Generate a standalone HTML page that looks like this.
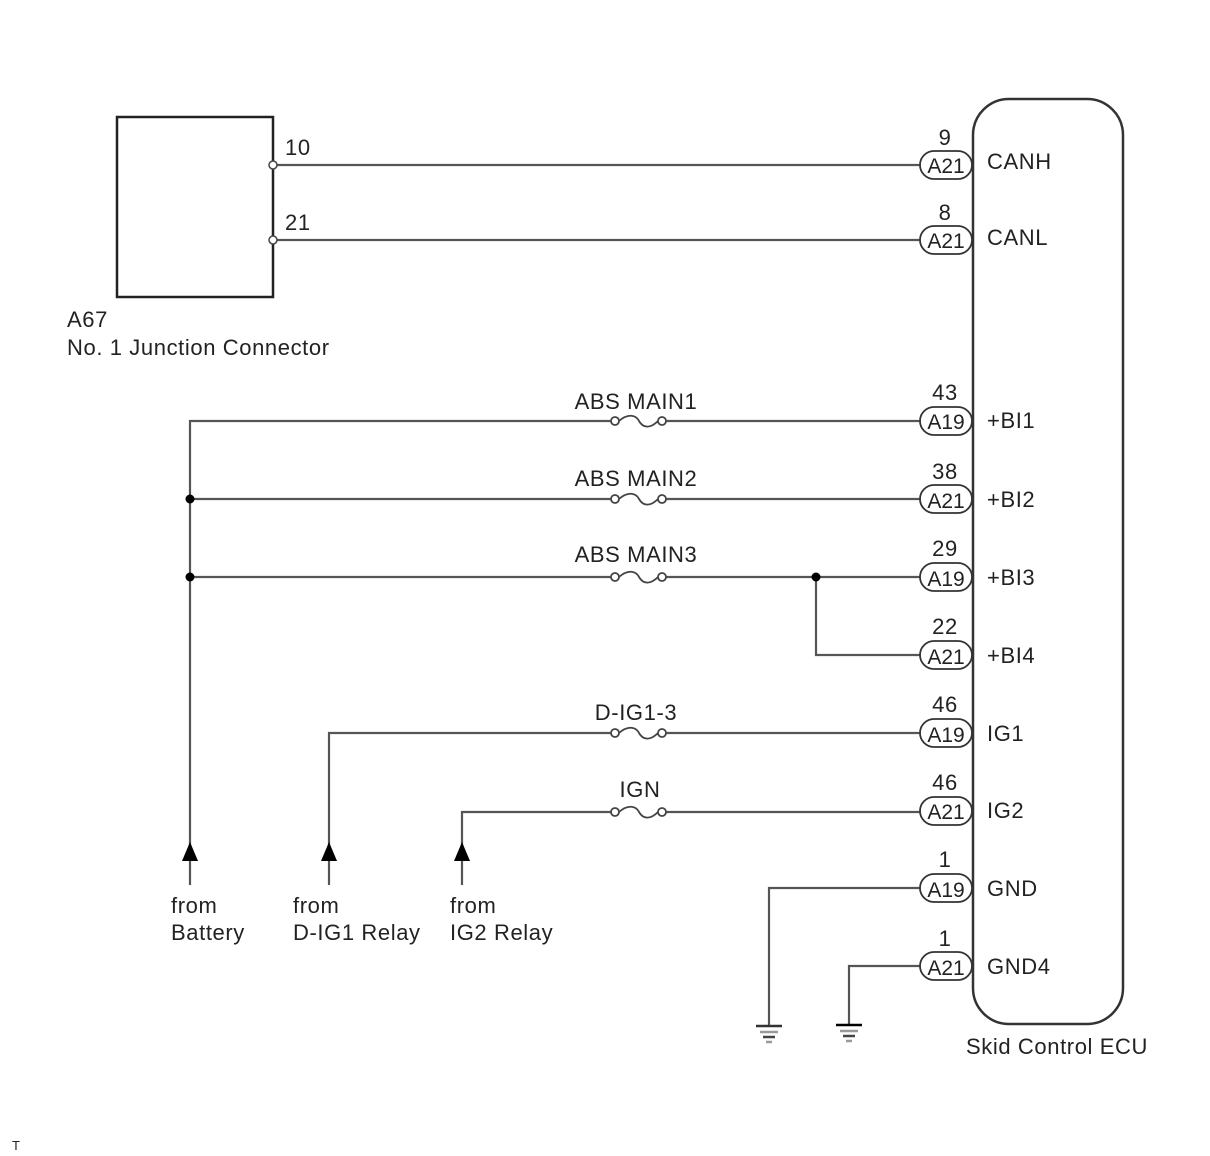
<!DOCTYPE html>
<html><head><meta charset="utf-8"><style>
html,body{margin:0;padding:0;background:#fff;}
svg{display:block;}
text{font-family:"Liberation Sans",sans-serif;font-size:22px;fill:#222;letter-spacing:0.6px;}
text.c{font-size:21px;letter-spacing:0;}
</style></head><body>
<svg width="1210" height="1156" viewBox="0 0 1210 1156" xmlns="http://www.w3.org/2000/svg">
<g stroke="#555" stroke-width="2.2" fill="none">
<rect x="117" y="117" width="156" height="180" stroke="#222" stroke-width="2.5"/>
<line x1="277" y1="165" x2="920" y2="165"/>
<line x1="277" y1="240" x2="920" y2="240"/>
<rect x="973" y="99" width="150" height="925" rx="36" ry="36" stroke="#333" stroke-width="2.5"/>
<polyline points="190,885 190,421 611,421"/>
<line x1="666" y1="421" x2="920" y2="421"/>
<line x1="190" y1="499" x2="611" y2="499"/>
<line x1="666" y1="499" x2="920" y2="499"/>
<line x1="190" y1="577" x2="611" y2="577"/>
<line x1="666" y1="577" x2="920" y2="577"/>
<polyline points="816,577 816,655 920,655"/>
<polyline points="329,885 329,733 611,733"/>
<line x1="666" y1="733" x2="920" y2="733"/>
<polyline points="462,885 462,812 611,812"/>
<line x1="666" y1="812" x2="920" y2="812"/>
<polyline points="769,1025 769,888 920,888"/>
<polyline points="849,1025 849,966 920,966"/>
</g>
<g stroke="#444" stroke-width="1.8" fill="#fff">
<g id="f1"><circle cx="615" cy="421" r="4"/><circle cx="662" cy="421" r="4"/><path d="M619,421 C628,413 636,415 639,421 C643,428 650,429 658,421" fill="none"/></g>
<use href="#f1" y="78"/>
<use href="#f1" y="156"/>
<use href="#f1" y="312"/>
<use href="#f1" y="391"/>
</g>
<circle cx="273" cy="165" r="4" fill="#fff" stroke="#444" stroke-width="1.5"/>
<circle cx="273" cy="240" r="4" fill="#fff" stroke="#444" stroke-width="1.5"/>
<circle cx="190" cy="499" r="4.5" fill="#000"/>
<circle cx="190" cy="577" r="4.5" fill="#000"/>
<circle cx="816" cy="577" r="4.5" fill="#000"/>
<g fill="#000">
<polygon points="190,842 182,861 198,861"/>
<polygon points="329,842 321,861 337,861"/>
<polygon points="462,842 454,861 470,861"/>
</g>
<g stroke-width="2.5">
<line x1="756" y1="1026" x2="782" y2="1026" stroke="#333"/>
<line x1="760" y1="1032" x2="778" y2="1032" stroke="#999"/>
<line x1="763" y1="1037" x2="775" y2="1037" stroke="#444"/>
<line x1="766" y1="1042" x2="772" y2="1042" stroke="#999"/>
<line x1="836" y1="1025" x2="862" y2="1025" stroke="#000"/>
<line x1="840" y1="1031" x2="858" y2="1031" stroke="#999"/>
<line x1="843" y1="1036" x2="855" y2="1036" stroke="#444"/>
<line x1="846" y1="1041" x2="852" y2="1041" stroke="#999"/>
</g>
<g stroke="#333" stroke-width="1.8" fill="#fff">
<rect x="920" y="151" width="52" height="28" rx="14"/>
<rect x="920" y="226" width="52" height="28" rx="14"/>
<rect x="920" y="407" width="52" height="28" rx="14"/>
<rect x="920" y="485" width="52" height="28" rx="14"/>
<rect x="920" y="563" width="52" height="28" rx="14"/>
<rect x="920" y="641" width="52" height="28" rx="14"/>
<rect x="920" y="719" width="52" height="28" rx="14"/>
<rect x="920" y="797" width="52" height="28" rx="14"/>
<rect x="920" y="874" width="52" height="28" rx="14"/>
<rect x="920" y="952" width="52" height="28" rx="14"/>
</g>
<g text-anchor="middle">
<text class="c" x="946" y="173">A21</text><text x="945" y="145">9</text>
<text class="c" x="946" y="248">A21</text><text x="945" y="220">8</text>
<text class="c" x="946" y="429">A19</text><text x="945" y="400">43</text>
<text class="c" x="946" y="508">A21</text><text x="945" y="479">38</text>
<text class="c" x="946" y="586">A19</text><text x="945" y="556">29</text>
<text class="c" x="946" y="664">A21</text><text x="945" y="634">22</text>
<text class="c" x="946" y="742">A19</text><text x="945" y="712">46</text>
<text class="c" x="946" y="819">A21</text><text x="945" y="790">46</text>
<text class="c" x="946" y="897">A19</text><text x="945" y="867">1</text>
<text class="c" x="946" y="975">A21</text><text x="945" y="946">1</text>
<text x="636" y="409">ABS MAIN1</text>
<text x="636" y="486">ABS MAIN2</text>
<text x="636" y="562">ABS MAIN3</text>
<text x="636" y="720">D-IG1-3</text>
<text x="640" y="797">IGN</text>
</g>
<g>
<text x="987" y="169">CANH</text>
<text x="987" y="245">CANL</text>
<text x="987" y="428">+BI1</text>
<text x="987" y="507">+BI2</text>
<text x="987" y="585">+BI3</text>
<text x="987" y="663">+BI4</text>
<text x="987" y="741">IG1</text>
<text x="987" y="818">IG2</text>
<text x="987" y="896">GND</text>
<text x="987" y="974">GND4</text>
<text x="966" y="1054">Skid Control ECU</text>
<text x="285" y="155">10</text>
<text x="285" y="230">21</text>
<text x="67" y="327">A67</text>
<text x="67" y="355">No. 1 Junction Connector</text>
<text x="171" y="913">from</text>
<text x="171" y="940">Battery</text>
<text x="293" y="913">from</text>
<text x="293" y="940">D-IG1 Relay</text>
<text x="450" y="913">from</text>
<text x="450" y="940">IG2 Relay</text>
<text x="12" y="1150" style="font-size:13px;letter-spacing:0">T</text>
</g>
</svg>
</body></html>
